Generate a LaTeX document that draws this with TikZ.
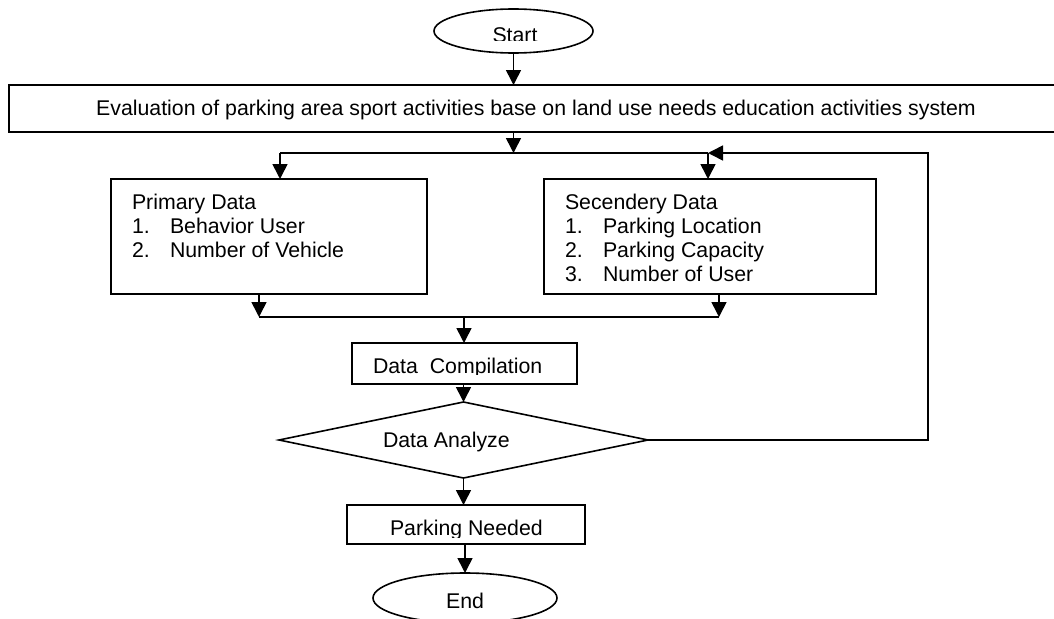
\documentclass[tikz,border=0pt]{standalone}
\usepackage{fontspec}
\setmainfont{Liberation Sans}
\usetikzlibrary{arrows.meta,shapes.geometric}
\begin{document}
\begin{tikzpicture}[x=1pt,y=-1pt,
  box/.style={draw,line width=1.6pt,inner sep=0pt,outer sep=0pt},
  arr/.style={line width=1.6pt,-{Triangle[length=15pt,width=15pt]}},
  ln/.style={line width=1.6pt},
  txt/.style={inner sep=0pt,outer sep=0pt,font=\fontsize{21.3}{24}\selectfont},
  every node/.style={font=\fontsize{21.3}{24}\selectfont}]
\useasboundingbox (0,0) rectangle (1054,618);
\clip (0,0) rectangle (1054,618);
\fill[white] (0,0) rectangle (1054,618);
% shapes
\node[box,ellipse,minimum width=159pt,minimum height=44pt] (start) at (513.5,31) {};
\node[box,rectangle,minimum width=1051pt,minimum height=47pt] (eval) at (534.5,108.5) {};
\node[box,rectangle,minimum width=316pt,minimum height=115pt] (prim) at (269,236.5) {};
\node[box,rectangle,minimum width=332pt,minimum height=115pt] (sec) at (710,236.5) {};
\node[box,rectangle,minimum width=225pt,minimum height=41pt] (comp) at (464.5,363.5) {};
\node[box,diamond,minimum width=369pt,minimum height=76pt] (ana) at (463.5,440) {};
\node[box,rectangle,minimum width=238pt,minimum height=39pt] (pn) at (466,524.5) {};
\node[box,ellipse,minimum width=184pt,minimum height=50pt] (end) at (465,598) {};
% texts
\begin{scope}
\clip (434,0) rectangle (594,41);
\node[txt,anchor=base] (tstart) at (515,43) {Start};
\end{scope}
\node[txt,anchor=base] (teval) at (536,115) {Evaluation of parking area sport activities base on land use needs education activities system};
\node[txt,anchor=base west] (p0) at (132,209) {Primary Data};
\node[txt,anchor=base west] (p1) at (132,233) {\makebox[38pt][l]{1.}Behavior User};
\node[txt,anchor=base west] (p2) at (132,257) {\makebox[38pt][l]{2.}Number of Vehicle};
\node[txt,anchor=base west] (s0) at (565,209) {Secendery Data};
\node[txt,anchor=base west] (s1) at (565,233) {\makebox[38pt][l]{1.}Parking Location};
\node[txt,anchor=base west] (s2) at (565,257) {\makebox[38pt][l]{2.}Parking Capacity};
\node[txt,anchor=base west] (s3) at (565,281) {\makebox[38pt][l]{3.}Number of User};
\begin{scope}
\clip (353,344) rectangle (576,374);
\node[txt,anchor=base west] (tcomp) at (373,373) {Data~~Compilation};
\end{scope}
\node[txt,anchor=base west] (tana) at (383,447) {Data Analyze};
\begin{scope}
\clip (348,506) rectangle (584,537);
\node[txt,anchor=base west] (tpn) at (390,535) {Parking Needed};
\end{scope}
\node[txt,anchor=base] (tend) at (465,608) {End};
% junctions
\coordinate (split) at (513.5,153);
\coordinate (jl) at (280,153);
\coordinate (jr) at (708,153);
\coordinate (fb) at (928,153);
\coordinate (bl) at (259,317);
\coordinate (br) at (719,317);
\coordinate (bm) at (464,317);
% connectors
\draw[arr] (start.south) -- (start.south |- eval.north);
\draw[arr] (eval.south -| split) -- (split);
\draw[ln] (jl) -- (jr);
\draw[arr] (jl) -- (jl |- prim.north);
\draw[arr] (jr) -- (jr |- sec.north);
\draw[arr] (prim.south -| bl) -- (bl);
\draw[arr] (sec.south -| br) -- (br);
\draw[ln] (bl) -- (br);
\draw[arr] (bm) -- (bm |- comp.north);
\draw[arr] (comp.south -| ana.north) -- (ana.north);
\draw[arr] (ana.south) -- (ana.south |- pn.north);
\draw[arr] (pn.south -| end.north) -- (end.north);
\draw[arr] (ana.east) -| (fb) -- (jr);
\end{tikzpicture}
\end{document}
